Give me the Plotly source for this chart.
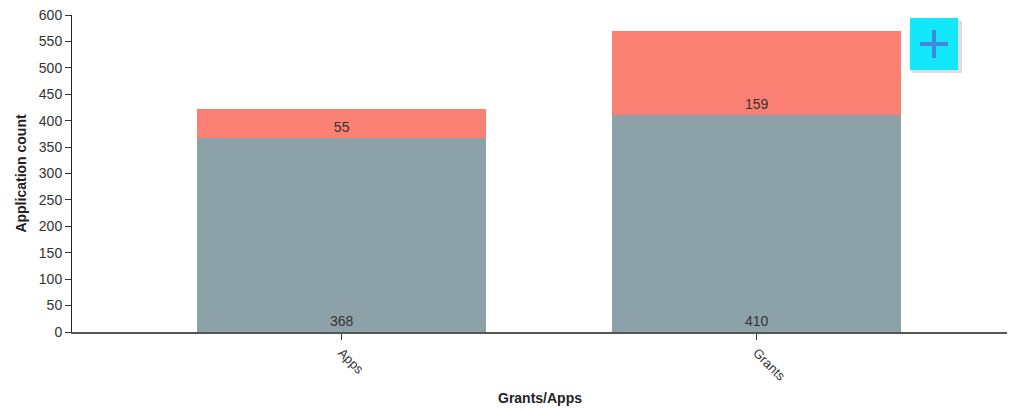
import plotly.graph_objects as go

# Application counts per category, split into two stacked groups
categories = ["Apps", "Grants"]
base_counts = [368, 410]
extra_counts = [55, 159]

y_ticks = [0, 50, 100, 150, 200, 250, 300, 350, 400, 450, 500, 550, 600]

BASE_COLOR = "#8DA1A9"
EXTRA_COLOR = "#F98072"
TEXT_FONT = dict(family="Liberation Sans, Arial, sans-serif", size=14, color="#333333")

fig = go.Figure()
for values, color in [(base_counts, BASE_COLOR), (extra_counts, EXTRA_COLOR)]:
    fig.add_trace(go.Bar(
        x=categories,
        y=values,
        marker=dict(color=color, line=dict(width=0)),
        width=0.696,
        text=[str(v) for v in values],
        textposition="inside",
        insidetextanchor="start",
        textangle=0,
        textfont=TEXT_FONT,
        constraintext="none",
        hoverinfo="x+y",
        showlegend=False,
    ))

fig.update_layout(
    barmode="stack",
    width=1020,
    height=410,
    margin=dict(l=72, r=13, t=15, b=78),
    paper_bgcolor="white",
    plot_bgcolor="white",
    font=dict(family="Liberation Sans, Arial, sans-serif", size=14, color="#333333"),
    uniformtext=dict(mode=False),
)

fig.update_xaxes(
    type="category",
    range=[-0.65, 1.603],
    automargin=False,
    showline=True,
    linecolor="#555555",
    linewidth=2,
    ticks="outside",
    ticklen=6,
    tickcolor="#333333",
    tickangle=45,
    tickfont=dict(size=13, color="#333333"),
    showgrid=False,
    zeroline=False,
)

fig.update_yaxes(
    range=[0, 600],
    automargin=False,
    tickvals=y_ticks,
    showline=True,
    linecolor="#222222",
    linewidth=1,
    ticks="outside",
    ticklen=6,
    tickcolor="#333333",
    tickfont=dict(size=14, color="#333333"),
    showgrid=False,
    zeroline=False,
    title=dict(text="<b>Application count</b>", font=dict(size=14, color="#222222"), standoff=8),
)

# Pixel helpers relative to the plotting area
px_to_x = lambda px: (px - 72) / 935
px_to_y = lambda py: (332 - py) / 317

# x-axis title
fig.add_annotation(text="<b>Grants/Apps</b>", xref="paper", yref="paper",
                   x=0.5, y=px_to_y(398), xanchor="center", yanchor="middle",
                   showarrow=False, font=dict(size=14, color="#222222"))

# Add-button in the top-right corner
fig.add_shape(type="rect", xref="paper", yref="paper",
              x0=px_to_x(912), x1=px_to_x(962), y0=px_to_y(73), y1=px_to_y(21),
              fillcolor="rgba(120,120,120,0.25)", line=dict(width=0), layer="above")
fig.add_shape(type="rect", xref="paper", yref="paper",
              x0=px_to_x(910), x1=px_to_x(958), y0=px_to_y(70), y1=px_to_y(18),
              fillcolor="#12E8FA", line=dict(width=0), layer="above")
fig.add_shape(type="line", xref="paper", yref="paper",
              x0=px_to_x(920), x1=px_to_x(948), y0=px_to_y(44), y1=px_to_y(44),
              line=dict(color="#3F86E0", width=4), layer="above")
fig.add_shape(type="line", xref="paper", yref="paper",
              x0=px_to_x(934), x1=px_to_x(934), y0=px_to_y(58), y1=px_to_y(30),
              line=dict(color="#3F86E0", width=4), layer="above")

fig.write_html("out.html")
